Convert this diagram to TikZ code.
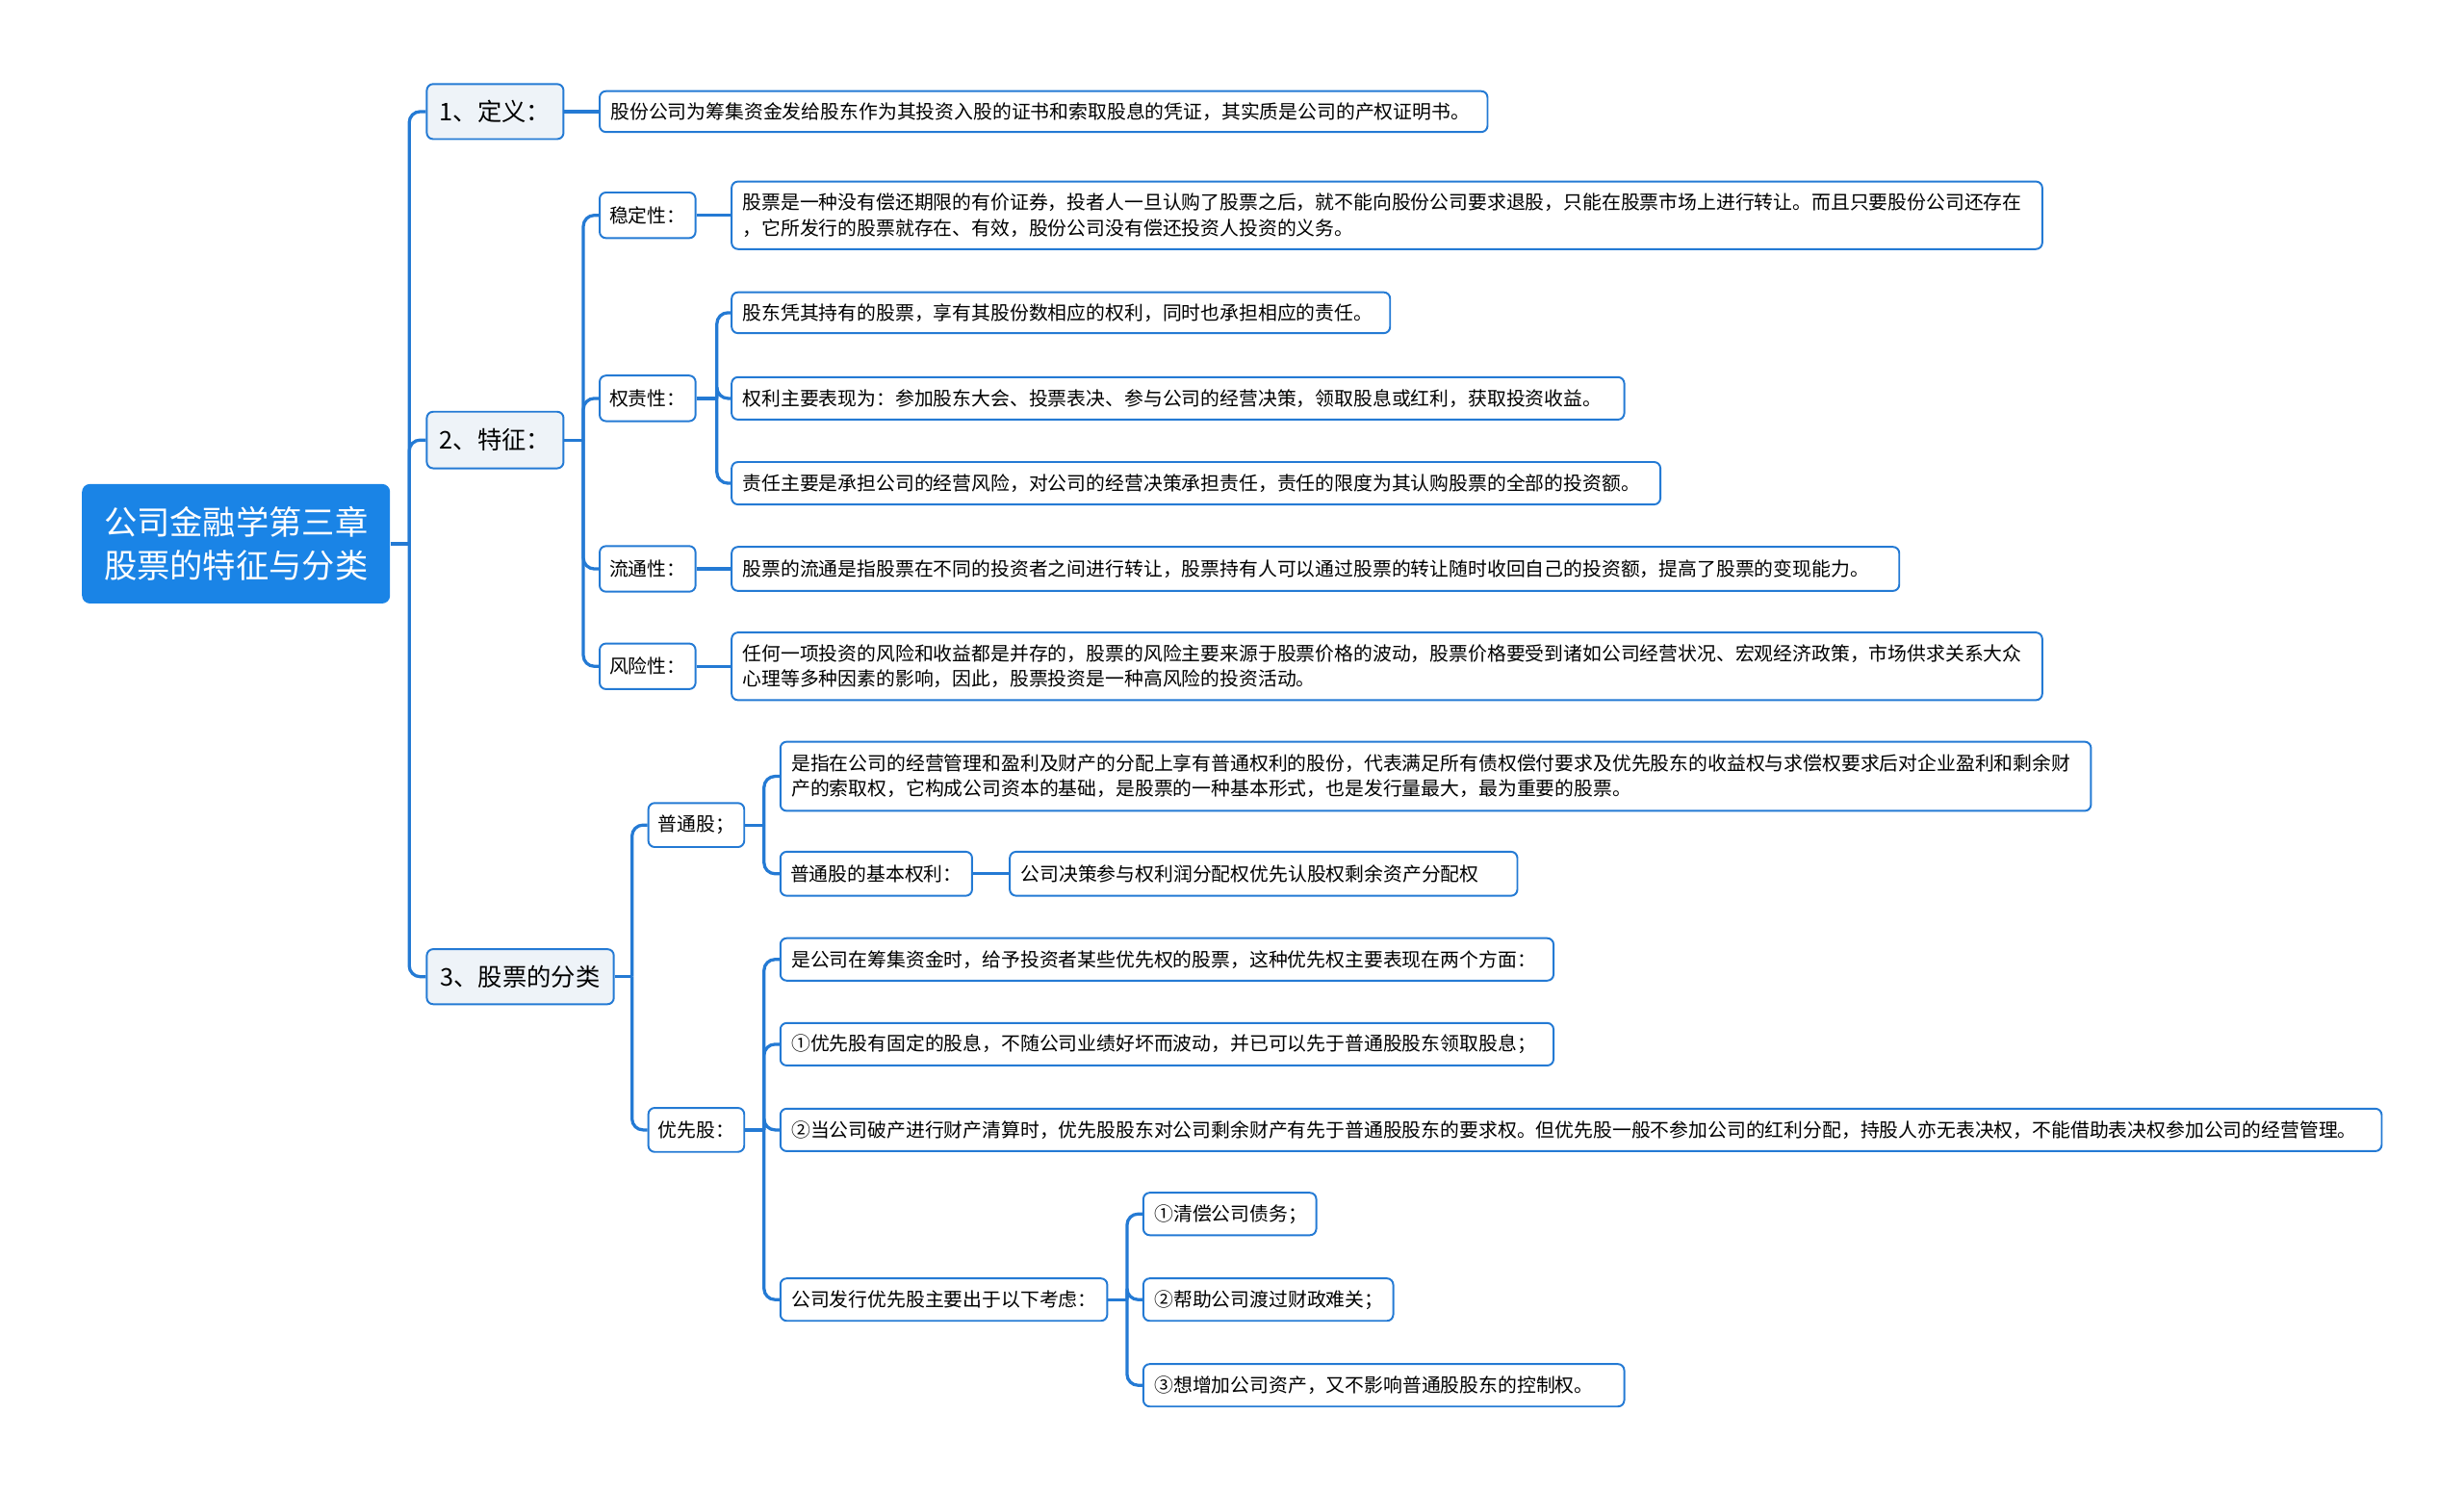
\documentclass[tikz,border=0pt]{standalone}
\usepackage{fontspec}
\setmainfont{Noto Sans CJK SC}
\definecolor{bl}{RGB}{36,122,212}
\definecolor{rootc}{RGB}{26,132,230}
\definecolor{lonefill}{RGB}{238,243,248}
\tikzset{
 base/.style={draw=bl, line width=1.2pt, rounded corners=4pt, anchor=west, inner sep=0pt, font=\fontsize{12.15}{16}\selectfont},
 leaf/.style={base, fill=white, align=left, inner xsep=7pt},
 lab/.style={base, fill=white, align=center},
 lone/.style={base, fill=lonefill, align=center, font=\fontsize{15.5}{19}\selectfont},
 rootbox/.style={fill=rootc, rounded corners=5pt, anchor=west, align=center, text=white, font=\fontsize{21}{28}\selectfont, inner sep=0pt},
 conn/.style={draw=bl, line width=2pt},
 bus/.style={conn, rounded corners=7pt},
}
\begin{document}
\begin{tikzpicture}[x=1pt, y=-1pt]
\fill[white] (0,0) rectangle (1568,948);
\useasboundingbox (0,0) rectangle (1568,948);

% root
\node[rootbox, minimum width=196pt, minimum height=76pt] (root) at (52,346) {公司金融学第三章\\股票的特征与分类};

% level 1
\node[lone, minimum width=87pt, minimum height=35pt] (d1) at (271,71) {1、定义：};
\node[lone, minimum width=87pt, minimum height=36pt] (d2) at (271,280) {2、特征：};
\node[lone, minimum width=119pt, minimum height=35pt] (d3) at (271,621.5) {3、股票的分类};

% definition
\node[leaf, text width=551pt, minimum height=26pt] (def) at (381,71) {股份公司为筹集资金发给股东作为其投资入股的证书和索取股息的凭证，其实质是公司的产权证明书。};

% features
\node[lab, minimum width=61pt, minimum height=29pt] (wd) at (381,137) {稳定性：};
\node[lab, minimum width=61pt, minimum height=29pt] (qz) at (381,253.5) {权责性：};
\node[lab, minimum width=61pt, minimum height=29pt] (lt) at (381,362) {流通性：};
\node[lab, minimum width=61pt, minimum height=29pt] (fx) at (381,424) {风险性：};

\node[leaf, text width=820pt, minimum height=43pt] (s1) at (465,137) {股票是一种没有偿还期限的有价证券，投者人一旦认购了股票之后，就不能向股份公司要求退股，只能在股票市场上进行转让。而且只要股份公司还存在\\，它所发行的股票就存在、有效，股份公司没有偿还投资人投资的义务。};
\node[leaf, text width=405pt, minimum height=26pt] (q1) at (465,199) {股东凭其持有的股票，享有其股份数相应的权利，同时也承担相应的责任。};
\node[leaf, text width=554pt, minimum height=27pt] (q2) at (465,253.5) {权利主要表现为：参加股东大会、投票表决、参与公司的经营决策，领取股息或红利，获取投资收益。};
\node[leaf, text width=577pt, minimum height=27pt] (q3) at (465,307.5) {责任主要是承担公司的经营风险，对公司的经营决策承担责任，责任的限度为其认购股票的全部的投资额。};
\node[leaf, text width=729pt, minimum height=28pt] (l1) at (465,362) {股票的流通是指股票在不同的投资者之间进行转让，股票持有人可以通过股票的转让随时收回自己的投资额，提高了股票的变现能力。};
\node[leaf, text width=820pt, minimum height=43pt] (f1) at (465,424) {任何一项投资的风险和收益都是并存的，股票的风险主要来源于股票价格的波动，股票价格要受到诸如公司经营状况、宏观经济政策，市场供求关系大众\\心理等多种因素的影响，因此，股票投资是一种高风险的投资活动。};

% classification
\node[lab, minimum width=61pt, minimum height=28pt] (pt) at (412,525) {普通股；};
\node[lab, minimum width=61pt, minimum height=28pt] (yx) at (412,719) {优先股：};

\node[leaf, text width=820pt, minimum height=44pt] (p1) at (496,494) {是指在公司的经营管理和盈利及财产的分配上享有普通权利的股份，代表满足所有债权偿付要求及优先股东的收益权与求偿权要求后对企业盈利和剩余财\\产的索取权，它构成公司资本的基础，是股票的一种基本形式，也是发行量最大，最为重要的股票。};
\node[lab, minimum width=122pt, minimum height=28pt] (p2) at (496,556) {普通股的基本权利：};
\node[leaf, text width=309pt, minimum height=28pt] (p3) at (642,556) {公司决策参与权利润分配权优先认股权剩余资产分配权};

\node[leaf, text width=478pt, minimum height=27pt] (y1) at (496,610.5) {是公司在筹集资金时，给予投资者某些优先权的股票，这种优先权主要表现在两个方面：};
\node[leaf, text width=478pt, minimum height=27pt] (y2) at (496,664.5) {①优先股有固定的股息，不随公司业绩好坏而波动，并已可以先于普通股股东领取股息；};
\node[leaf, text width=1005pt, minimum height=27pt] (y3) at (496,719) {②当公司破产进行财产清算时，优先股股东对公司剩余财产有先于普通股股东的要求权。但优先股一般不参加公司的红利分配，持股人亦无表决权，不能借助表决权参加公司的经营管理。};
\node[leaf, text width=194pt, minimum height=27pt] (y4) at (496,827) {公司发行优先股主要出于以下考虑：};

\node[leaf, text width=96pt, minimum height=27pt] (z1) at (727,772.5) {①清偿公司债务；};
\node[leaf, text width=145pt, minimum height=27pt] (z2) at (727,827) {②帮助公司渡过财政难关；};
\node[leaf, text width=292pt, minimum height=27pt] (z3) at (727,881.5) {③想增加公司资产，又不影响普通股股东的控制权。};

% connectors
\path (root.east) ++(12,0) coordinate (b0);
\draw[conn] (root.east) -- (b0);
\foreach \c in {d1,d2,d3} \draw[bus] (b0) |- (\c.west);

\draw[conn] (d1.east) -- (def.west);

\path (d2.east) ++(12,0) coordinate (b2);
\draw[conn] (d2.east) -- (b2);
\foreach \c in {wd,qz,lt,fx} \draw[bus] (b2) |- (\c.west);

\draw[conn] (wd.east) -- (s1.west);
\path (qz.east) ++(13,0) coordinate (bq);
\draw[conn] (qz.east) -- (bq);
\foreach \c in {q1,q2,q3} \draw[bus] (bq) |- (\c.west);
\draw[conn] (lt.east) -- (l1.west);
\draw[conn] (fx.east) -- (f1.west);

\path (d3.east) ++(11,0) coordinate (b3);
\draw[conn] (d3.east) -- (b3);
\foreach \c in {pt,yx} \draw[bus] (b3) |- (\c.west);

\path (pt.east) ++(12,0) coordinate (bp);
\draw[conn] (pt.east) -- (bp);
\foreach \c in {p1,p2} \draw[bus] (bp) |- (\c.west);
\draw[conn] (p2.east) -- (p3.west);

\path (yx.east) ++(12,0) coordinate (by);
\draw[conn] (yx.east) -- (by);
\foreach \c in {y1,y2,y3,y4} \draw[bus] (by) |- (\c.west);

\path (y4.east) ++(12,0) coordinate (bz);
\draw[conn] (y4.east) -- (bz);
\foreach \c in {z1,z2,z3} \draw[bus] (bz) |- (\c.west);
\end{tikzpicture}
\end{document}
